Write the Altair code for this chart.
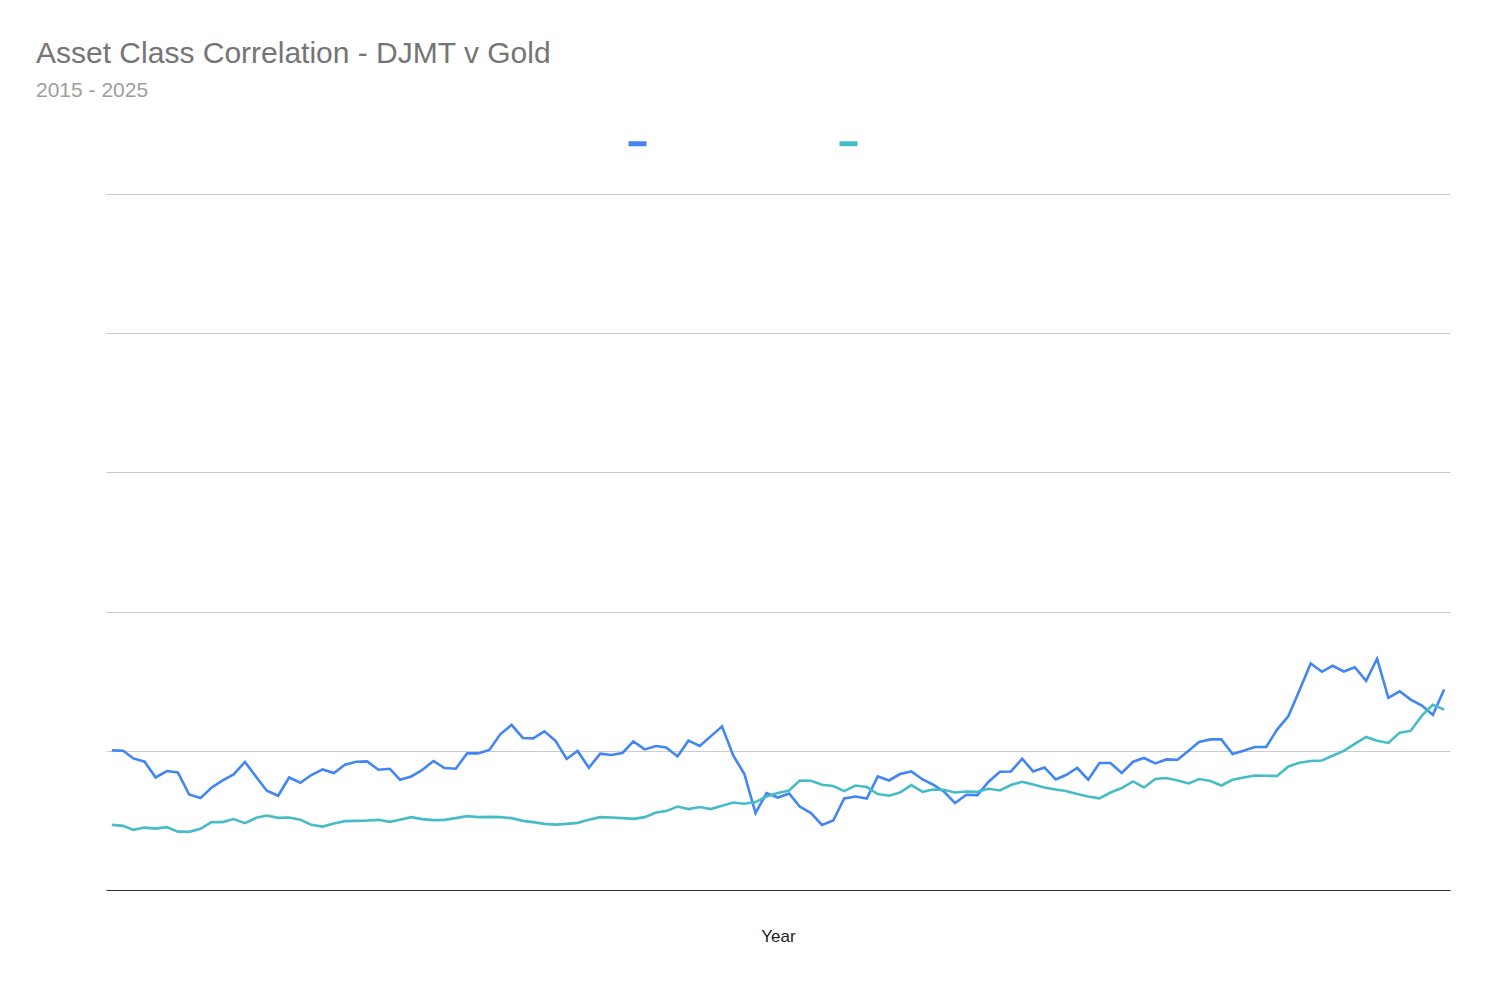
import altair as alt
import pandas as pd

# Monthly observations, 2015 - 2025
months = pd.date_range("2015-01-01", periods=121, freq="MS").strftime("%Y-%m-%d").tolist()

djmt = [2507, 2502, 2363, 2304, 2021, 2137, 2111, 1715, 1651, 1836,
        1967, 2075, 2299, 2029, 1782, 1692, 2021, 1926, 2065, 2165,
        2101, 2250, 2304, 2309, 2160, 2178, 1980, 2039, 2155, 2317,
        2191, 2178, 2453, 2453, 2515, 2795, 2965, 2731, 2723, 2849,
        2682, 2353, 2497, 2196, 2448, 2425, 2461, 2669, 2525, 2587,
        2561, 2399, 2682, 2587, 2759, 2939, 2412, 2088, 1381, 1741,
        1661, 1733, 1499, 1381, 1170, 1247, 1643, 1679, 1643, 2039,
        1967, 2083, 2129, 1985, 1895, 1764, 1561, 1710, 1705, 1944,
        2124, 2129, 2358, 2129, 2201, 1985, 2065, 2191, 1980, 2281,
        2281, 2101, 2304, 2371, 2273, 2345, 2340, 2507, 2659, 2705,
        2705, 2443, 2502, 2569, 2569, 2880, 3123, 3582, 4068, 3919,
        4027, 3924, 4000, 3757, 4153, 3451, 3569, 3420, 3312, 3145,
        3600]

gold = [1170, 1152, 1080, 1121, 1103, 1129, 1049, 1044, 1098, 1219,
        1219, 1273, 1201, 1296, 1337, 1296, 1301, 1260, 1170, 1139,
        1193, 1237, 1242, 1247, 1260, 1224, 1260, 1309, 1273, 1255,
        1260, 1291, 1327, 1309, 1314, 1309, 1291, 1242, 1219, 1188,
        1175, 1188, 1206, 1260, 1309, 1301, 1291, 1278, 1309, 1391,
        1417, 1499, 1453, 1489, 1453, 1512, 1571, 1548, 1579, 1679,
        1741, 1787, 1967, 1962, 1890, 1867, 1777, 1877, 1849, 1723,
        1692, 1751, 1885, 1764, 1805, 1800, 1751, 1769, 1764, 1818,
        1787, 1885, 1944, 1895, 1841, 1805, 1777, 1723, 1679, 1647,
        1751, 1831, 1949, 1841, 1993, 2011, 1967, 1913, 1993, 1957,
        1877, 1980, 2021, 2057, 2052, 2047, 2219, 2286, 2317, 2327,
        2412, 2498, 2624, 2749, 2682, 2641, 2826, 2857, 3132, 3325,
        3240]

series_names = ["DJMT", "Gold"]
series_colors = ["#4285F4", "#46BDC6"]
y_ticks = [0, 2500, 5000, 7500, 10000, 12500]

df = pd.DataFrame({
    "Year": months * 2,
    "Value": djmt + gold,
    "Series": [series_names[0]] * len(months) + [series_names[1]] * len(months),
})

chart = alt.Chart(df).mark_line(strokeWidth=2.6, interpolate="linear").encode(
    x=alt.X("Year:T",
            scale=alt.Scale(domain=["2014-12-16", "2025-01-17"], nice=False),
            axis=alt.Axis(title="Year", labels=False, ticks=False, grid=False,
                          domain=True, domainColor="#333333", domainWidth=1,
                          titleFont="Liberation Sans", titleFontSize=17,
                          titleFontWeight="normal", titleColor="#222222",
                          titlePadding=38)),
    y=alt.Y("Value:Q",
            scale=alt.Scale(domain=[0, 12500], nice=False, zero=True),
            axis=alt.Axis(title=None, labels=False, ticks=False, domain=False,
                          values=y_ticks, grid=True, gridColor="#cccccc",
                          gridWidth=1)),
    color=alt.Color("Series:N",
                    scale=alt.Scale(domain=series_names, range=series_colors),
                    legend=alt.Legend(title=None, orient="none", direction="horizontal",
                                      legendX=520, legendY=-62, padding=0,
                                      symbolType="stroke", symbolSize=324,
                                      symbolStrokeWidth=5,
                                      labelExpr="''", labelFontSize=1,
                                      labelOffset=0, columnPadding=172)),
).properties(
    width=1344,
    height=696,
    background="white",
    padding={"left": 98, "top": 186, "right": 20, "bottom": 80},
    autosize=alt.AutoSizeParams(type="none"),
    title=alt.TitleParams(
        text="Asset Class Correlation - DJMT v Gold",
        subtitle="2015 - 2025",
        anchor="start",
        dx=-70,
        font="Liberation Sans",
        fontSize=30,
        fontWeight="normal",
        color="#757575",
        subtitleFont="Liberation Sans",
        subtitleFontSize=21,
        subtitleColor="#9e9e9e",
        subtitlePadding=11,
        offset=31,
    ),
).configure_view(strokeWidth=0, stroke=None)

chart.save("out.html", embed_options={"renderer": "svg", "actions": False})
